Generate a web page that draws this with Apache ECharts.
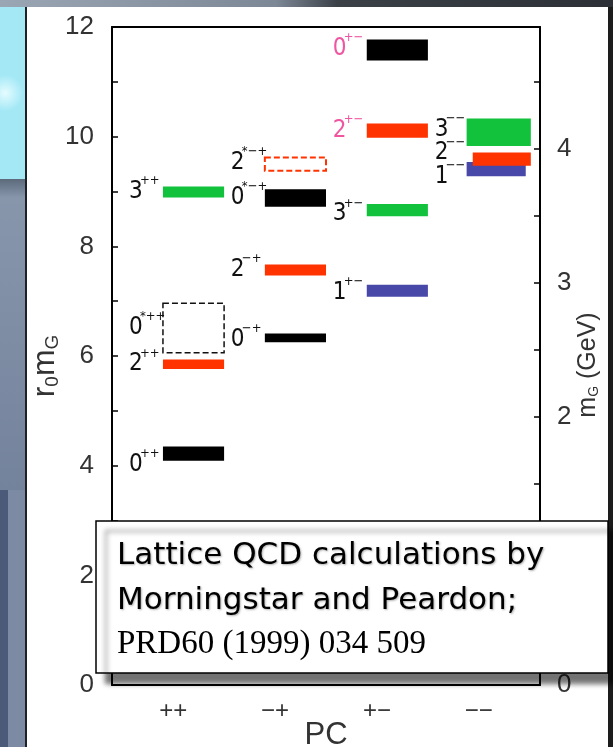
<!DOCTYPE html>
<html>
<head>
<meta charset="utf-8">
<style>
html, body { margin: 0; padding: 0; background: #2a2e34; }
#chart { width: 613px; height: 747px; }
</style>
<script src="https://cdn.jsdelivr.net/npm/echarts@6/dist/echarts.min.js"></script>
</head>
<body>
<div id="chart"></div>
<script>
// PC columns on the x axis
const pcLabels = ['++', '−+', '+−', '−−'];
const pcPositions = [1, 2, 3, 4];

// glueball states: J^PC, column, r0*m centre and half-height of the band
const stateNames  = ['0++', '2++', '0*++', '3++', '0−+', '2−+', '0*−+', '2*−+', '1+−', '3+−', '2+−', '0+−', '1−−', '2−−', '3−−'];
const stateColumn = [1, 1, 1, 1, 2, 2, 2, 2, 3, 3, 3, 3, 4, 4, 4];
const stateMass   = [4.22, 5.85, 6.51, 8.99, 6.33, 7.57, 8.88, 9.50, 7.19, 8.66, 10.11, 11.58, 9.41, 9.59, 10.08];
const stateError  = [0.13, 0.085, 0.45, 0.10, 0.08, 0.10, 0.16, 0.12, 0.11, 0.11, 0.13, 0.19, 0.13, 0.12, 0.25];

// axis tick labels
const leftTicks = [0, 2, 4, 6, 8, 10, 12];
const rightTicks = [0, 1, 2, 3, 4];
const r0mPerGeV = 2.445;

const RED = '#ff3300', GREEN = '#12c23c', BLUE = '#4848a8', BLACK = '#000', PINK = '#ef55a0';
const narrow = '"Liberation Sans Narrow", "DejaVu Sans Condensed", "Liberation Sans", sans-serif';

const barLook = {
    '0++': { fill: BLACK }, '2++': { fill: RED }, '0*++': { stroke: '#111', lw: 1.5 }, '3++': { fill: GREEN },
    '0−+': { fill: BLACK }, '2−+': { fill: RED }, '0*−+': { fill: BLACK }, '2*−+': { stroke: RED, lw: 2 },
    '1+−': { fill: BLUE }, '3+−': { fill: GREEN }, '2+−': { fill: RED }, '0+−': { fill: BLACK },
    '1−−': { fill: BLUE, span: [-0.12, 0.46] }, '2−−': { fill: RED, span: [-0.06, 0.51] }, '3−−': { fill: GREEN, span: [-0.12, 0.51] }
};
// small vertical nudges of the J^PC labels (px)
const labelShift = { '0++': 11, '0−+': 2, '1+−': 2, '3+−': 4, '3−−': -3, '2−−': -6, '1−−': 8, '2*−+': -1, '0+−': -1 };

function renderItem(params, api) {
    const name = stateNames[params.dataIndex];
    const col = api.value(0), m = api.value(1), e = api.value(2);
    const look = barLook[name];
    const span = look.span || [-0.1, 0.5];
    const tl = api.coord([col + span[0], m + e]);
    const br = api.coord([col + span[1], m - e]);
    const style = look.stroke
        ? { fill: '#fff', stroke: look.stroke, lineWidth: look.lw, lineDash: [6, 3] }
        : { fill: look.fill };
    const anchor = api.coord([col - 0.1, m]);
    const lx = anchor[0] - 34;
    const ly = anchor[1] + (labelShift[name] || 0);
    const color = (name === '0+−' || name === '2+−') ? PINK : '#111';
    return {
        type: 'group',
        children: [
            { type: 'rect', shape: { x: tl[0], y: tl[1], width: br[0] - tl[0], height: br[1] - tl[1] }, style: style },
            { type: 'text', x: lx, y: ly, style: { text: name[0], font: '24px ' + narrow, fill: color, align: 'left', verticalAlign: 'middle' } },
            { type: 'text', x: lx + 11, y: ly - 11, style: { text: name.slice(1), font: '13px ' + narrow, fill: color, align: 'left', verticalAlign: 'middle' } }
        ]
    };
}

const frameLine = { show: true, onZero: false, lineStyle: { color: '#000', width: 2 } };

option = {
    animation: false,
    grid: { left: 112, right: 73, top: 27, bottom: 62, outerBoundsMode: 'none', containLabel: false },
    xAxis: [{
        type: 'value', min: 0.4, max: 4.6, position: 'bottom',
        axisLine: frameLine, axisTick: { show: false }, splitLine: { show: false },
        axisLabel: {
            customValues: pcPositions, margin: 14, fontSize: 24, color: '#333', fontFamily: 'Liberation Sans',
            formatter: v => pcLabels[pcPositions.indexOf(v)] || ''
        },
        name: 'PC', nameLocation: 'middle', nameGap: 35, nameMoveOverlap: false,
        nameTextStyle: { fontSize: 31, color: '#333', fontFamily: 'Liberation Sans' }
    }, {
        type: 'value', min: 0.4, max: 4.6, position: 'top',
        axisLine: frameLine, axisTick: { show: false }, axisLabel: { show: false }, splitLine: { show: false }
    }],
    yAxis: [{
        type: 'value', min: 0, max: 12, interval: 1, position: 'left',
        axisLine: frameLine,
        axisTick: { inside: true, length: 6, lineStyle: { width: 1.5, color: '#000' } },
        splitLine: { show: false },
        axisLabel: { customValues: leftTicks, margin: 18, fontSize: 26, color: '#333', fontFamily: 'Liberation Sans' }
    }, {
        type: 'value', min: 0, max: 12 / r0mPerGeV, interval: 0.5, position: 'right',
        axisLine: frameLine,
        axisTick: { inside: true, length: 6, lineStyle: { width: 1.5, color: '#000' } },
        splitLine: { show: false },
        axisLabel: { customValues: rightTicks, margin: 17, fontSize: 26, color: '#333', fontFamily: 'Liberation Sans' }
    }],
    graphic: [
        // slide background
        { type: 'rect', z: -10, shape: { x: 0, y: 0, width: 613, height: 7 },
          style: { fill: new echarts.graphic.LinearGradient(0, 0, 1, 0, [
              { offset: 0, color: '#9aa6b4' }, { offset: 0.45, color: '#7d8896' },
              { offset: 0.55, color: '#3c4148' }, { offset: 1, color: '#2c3036' }]) } },
        { type: 'rect', z: -10, shape: { x: 0, y: 7, width: 26, height: 172 },
          style: { fill: new echarts.graphic.RadialGradient(0.2, 0.5, 0.7, [
              { offset: 0, color: '#e4fcff' }, { offset: 1, color: '#a4e8f6' }]) } },
        { type: 'rect', z: -10, shape: { x: 0, y: 179, width: 26, height: 311 },
          style: { fill: new echarts.graphic.LinearGradient(0, 0, 0, 1, [
              { offset: 0, color: '#5c6a7c' }, { offset: 0.06, color: '#8796ab' }, { offset: 1, color: '#74839c' }]) } },
        { type: 'rect', z: -10, shape: { x: 0, y: 490, width: 8, height: 257 }, style: { fill: '#4b5a78' } },
        { type: 'rect', z: -10, shape: { x: 8, y: 490, width: 18, height: 257 }, style: { fill: '#7c8aa3' } },
        { type: 'rect', z: -10, shape: { x: 608, y: 7, width: 5, height: 740 }, style: { fill: '#1c1c1c' } },
        { type: 'rect', z: -9, shape: { x: 26, y: 7, width: 582, height: 740 }, style: { fill: '#fff' } },
        { type: 'line', z: -8, shape: { x1: 26, y1: 7, x2: 26, y2: 747 }, style: { stroke: '#1e2228', lineWidth: 2 } },
        // axis names
        { type: 'text', z: 5, x: 45, y: 366, rotation: Math.PI / 2,
          style: { text: '{m|r}{s|0}{m|m}{s|G}', align: 'center', verticalAlign: 'middle', fill: '#333',
                   rich: { m: { fontSize: 32, lineHeight: 34, fontFamily: 'Liberation Sans', fill: '#333' },
                           s: { fontSize: 19, lineHeight: 20, fontFamily: 'Liberation Sans', verticalAlign: 'bottom', fill: '#333' } } } },
        { type: 'text', z: 5, x: 588, y: 365, rotation: Math.PI / 2,
          style: { text: '{m|m}{s|G}{m| (GeV)}', align: 'center', verticalAlign: 'middle', fill: '#333',
                   rich: { m: { fontSize: 25, lineHeight: 27, fontFamily: 'Liberation Sans', fill: '#333' },
                           s: { fontSize: 14, lineHeight: 14, fontFamily: 'Liberation Sans', verticalAlign: 'bottom', fill: '#333' } } } },
        // citation box
        { type: 'rect', z: 100, shape: { x: 96, y: 521, width: 512, height: 152 },
          style: { fill: '#fff', stroke: '#000', lineWidth: 1.5,
                   shadowColor: 'rgba(0,0,0,0.55)', shadowBlur: 5, shadowOffsetX: 10, shadowOffsetY: 10 } },
        { type: 'text', z: 101, x: 117, y: 556,
          style: { text: 'Lattice QCD calculations by', font: '31px "DejaVu Sans"', fill: '#000', verticalAlign: 'middle',
                   textShadowColor: 'rgba(0,0,0,0.3)', textShadowBlur: 2, textShadowOffsetX: 1, textShadowOffsetY: 1 } },
        { type: 'text', z: 101, x: 117, y: 601,
          style: { text: 'Morningstar and Peardon;', font: '31px "DejaVu Sans"', fill: '#000', verticalAlign: 'middle',
                   textShadowColor: 'rgba(0,0,0,0.3)', textShadowBlur: 2, textShadowOffsetX: 1, textShadowOffsetY: 1 } },
        { type: 'text', z: 101, x: 117, y: 644,
          style: { text: 'PRD60 (1999) 034 509', font: '33px "Liberation Serif"', fill: '#000', verticalAlign: 'middle' } }
    ],
    series: [{
        type: 'custom',
        coordinateSystem: 'cartesian2d',
        renderItem: renderItem,
        clip: false,
        encode: { x: 0, y: 1 },
        data: stateNames.map((n, i) => [stateColumn[i], stateMass[i], stateError[i]])
    }]
};

echarts.init(document.getElementById('chart')).setOption(option);
</script>
</body>
</html>
